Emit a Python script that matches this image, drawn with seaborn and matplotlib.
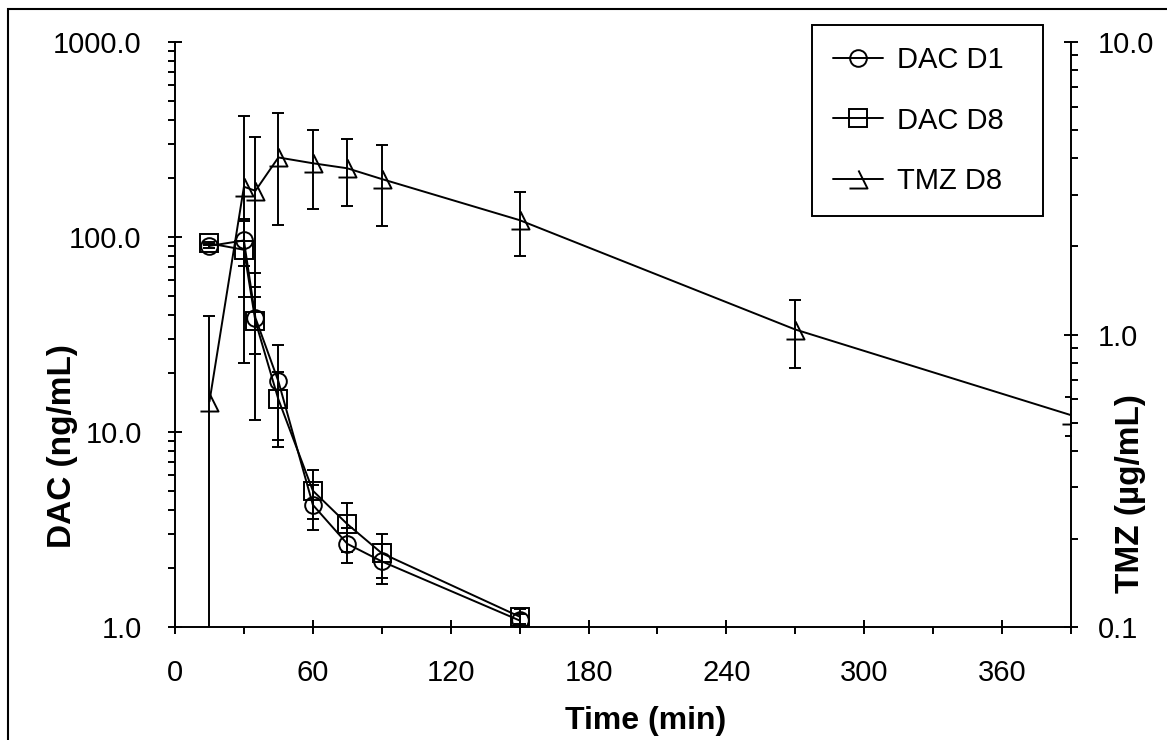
import matplotlib
matplotlib.use("Agg")
import matplotlib.pyplot as plt
import seaborn as sns
from matplotlib.path import Path
from matplotlib.patches import Rectangle
from matplotlib.ticker import FuncFormatter, MultipleLocator, NullFormatter, LogLocator

# sampling times (min)
dac_time = [15, 30, 35, 45, 60, 75, 90, 150]
tmz_time = [15, 30, 35, 45, 60, 75, 90, 150, 270, 390]

# DAC (ng/mL), mean and SD
dac_d1 = [90, 96, 38.5, 18.2, 4.23, 2.67, 2.17, 1.08]
dac_d1_sd = [2, 25, 27, 9.8, 1.1, 0.53, 0.5, 0.08]
dac_d8 = [92.7, 86, 37, 14.7, 5.0, 3.37, 2.39, 1.13]
dac_d8_sd = [2, 37, 12, 5.6, 1.4, 0.95, 0.6, 0.1]

# TMZ (ug/mL), mean and SD
tmz_d8 = [0.59, 3.2, 3.1, 4.03, 3.85, 3.70, 3.40, 2.46, 1.04, 0.53]
tmz_d8_sd = [0.57, 2.4, 1.65, 1.67, 1.17, 0.95, 1.05, 0.60, 0.27, 0.08]

x_ticks = [0, 60, 120, 180, 240, 300, 360]
dac_ticks = [1, 10, 100, 1000]
tmz_ticks = [0.1, 1, 10]

sns.set_style("ticks", {"axes.edgecolor": "black", "xtick.color": "black",
                        "ytick.color": "black", "text.color": "black",
                        "axes.labelcolor": "black"})
plt.rcParams["font.family"] = ["Liberation Sans", "DejaVu Sans"]

# open triangle as drawn in the original (left edge missing)
tmz_marker = Path([(0, 0.5), (0.5, -0.5), (-0.5, -0.5)],
                  [Path.MOVETO, Path.LINETO, Path.LINETO])

fig = plt.figure(figsize=(11.67, 7.4), dpi=100, facecolor="white")
ax = fig.add_axes([175 / 1167, 1 - 627 / 740, (1071 - 175) / 1167, (627 - 42) / 740])
ax2 = ax.twinx()

lw = 1.4
line_kw = dict(color="black", linewidth=lw, markerfacecolor="none",
               markeredgecolor="black", markeredgewidth=lw, legend=False)
err_kw = dict(fmt="none", ecolor="black", elinewidth=lw, capsize=4.3, capthick=lw)

sns.lineplot(x=dac_time, y=dac_d1, ax=ax, marker="o", markersize=12, label="DAC D1", **line_kw)
ax.errorbar(dac_time, dac_d1, yerr=dac_d1_sd, clip_on=False, **err_kw)
sns.lineplot(x=dac_time, y=dac_d8, ax=ax, marker="s", markersize=13, label="DAC D8", **line_kw)
ax.errorbar(dac_time, dac_d8, yerr=dac_d8_sd, clip_on=False, **err_kw)

sns.lineplot(x=tmz_time, y=tmz_d8, ax=ax2, marker=tmz_marker, markersize=13, label="TMZ D8", **line_kw)
ax2.errorbar(tmz_time, tmz_d8, yerr=tmz_d8_sd, **err_kw)

# axes ranges and ticks
ax.set_xlim(0, 390)
ax.set_yscale("log")
ax.set_ylim(1, 1000)
ax2.set_yscale("log")
ax2.set_ylim(0.1, 10)

fmt = FuncFormatter(lambda v, p: f"{v:.1f}")
ax.set_xticks(x_ticks)
ax.xaxis.set_minor_locator(MultipleLocator(30))
for a, ticks in [(ax, dac_ticks), (ax2, tmz_ticks)]:
    a.set_yticks(ticks)
    a.yaxis.set_major_formatter(fmt)
    a.yaxis.set_minor_locator(LogLocator(base=10, subs=range(2, 10)))
    a.yaxis.set_minor_formatter(NullFormatter())

ax.tick_params(axis="both", which="major", direction="inout", length=10, width=lw, labelsize=21)
ax.tick_params(axis="both", which="minor", direction="out", length=5, width=lw)
ax.tick_params(axis="y", which="major", pad=19)
ax.tick_params(axis="x", which="major", pad=18)
ax2.tick_params(axis="y", which="major", direction="inout", length=10, width=lw, labelsize=21, pad=14)
ax2.tick_params(axis="y", which="minor", direction="out", length=5, width=lw)

for s in ["top", "right"]:
    ax.spines[s].set_visible(False)
for s in ["top", "left", "bottom"]:
    ax2.spines[s].set_visible(False)
for a in [ax, ax2]:
    for sp in a.spines.values():
        sp.set_linewidth(lw)

ax.set_xlabel("Time (min)", fontsize=23, fontweight="bold", va="center")
ax.xaxis.set_label_coords(0.525, -0.16)
ax.set_ylabel("DAC (ng/mL)", fontsize=24, fontweight="bold", va="center", ha="center")
ax.yaxis.set_label_coords(-0.126, 0.309)
ax2.set_ylabel("TMZ (µg/mL)", fontsize=24, fontweight="bold", va="center", ha="center", rotation=90)
ax2.yaxis.set_label_coords(1.066, 0.228)

h1, l1 = ax.get_legend_handles_labels()
h2, l2 = ax2.get_legend_handles_labels()
leg = ax2.legend(h1 + h2, l1 + l2, loc="upper left",
                 bbox_to_anchor=(812 / 1167, 1 - 216 / 740, 231 / 1167, 191 / 740),
                 bbox_transform=fig.transFigure, mode="expand", fontsize=21,
                 frameon=True, fancybox=False, edgecolor="black", framealpha=1,
                 borderpad=0.72, labelspacing=1.12, handlelength=1.7,
                 handletextpad=0.5, borderaxespad=0)
leg.get_frame().set_linewidth(lw)

# outer chart border
fig.add_artist(Rectangle((8 / 1167, -0.05), 1.2, 1.05 - 9 / 740, transform=fig.transFigure,
                         fill=False, edgecolor="black", linewidth=1.5, clip_on=False))

fig.savefig("out.png", dpi=100)
